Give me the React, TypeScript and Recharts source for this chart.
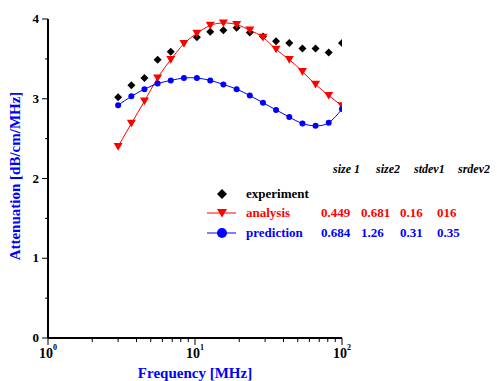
import React from "react";
import { ComposedChart, Line, XAxis, YAxis } from "recharts";

// ── data ──
const freqs = [3, 3.69, 4.53, 5.57, 6.84, 8.41, 10.3, 12.7, 15.6, 19.2, 23.6, 29.0, 35.6, 43.8, 53.8, 66.1, 81.2, 100];
const experiment = [3.02, 3.17, 3.26, 3.49, 3.59, null, 3.77, 3.84, 3.86, 3.89, 3.83, 3.78, 3.72, 3.7, 3.63, 3.63, 3.58, 3.7];
const analysis = [2.4, 2.69, 2.97, 3.26, 3.49, 3.69, 3.82, 3.92, 3.95, 3.93, 3.86, 3.77, 3.62, 3.49, 3.34, 3.18, 3.04, 2.91];
const prediction = [2.92, 3.03, 3.12, 3.19, 3.23, 3.26, 3.26, 3.23, 3.18, 3.12, 3.04, 2.95, 2.86, 2.77, 2.69, 2.66, 2.7, 2.87];

const xTicks = [1, 2, 3, 4, 5, 6, 7, 8, 9, 10, 20, 30, 40, 50, 60, 70, 80, 90, 100];
const yTicks = [0, 0.5, 1, 1.5, 2, 2.5, 3, 3.5, 4];

const statHeaders = ["size 1", "size2", "stdev1", "srdev2"];
const analysisStats = ["0.449", "0.681", "0.16", "016"];
const predictionStats = ["0.684", "1.26", "0.31", "0.35"];

const RED = "#ff0000";
const BLUE = "#0000ff";
const FONT = "'Liberation Serif', 'DejaVu Serif', serif";

const rows = freqs.map((f, i) => ({
  f,
  exp: experiment[i],
  ana: analysis[i],
  pre: prediction[i],
}));

// ── markers ──
function Diamond({ cx, cy, s = 4 }: any) {
  if (cx == null || cy == null) return null;
  return (
    <polygon
      points={`${cx},${cy - s} ${cx + s},${cy} ${cx},${cy + s} ${cx - s},${cy}`}
      fill="#000"
    />
  );
}

function TriDown({ cx, cy, s = 4.5 }: any) {
  if (cx == null || cy == null) return null;
  return (
    <polygon
      points={`${cx - s},${cy - s * 0.8} ${cx + s},${cy - s * 0.8} ${cx},${cy + s * 0.9}`}
      fill={RED}
    />
  );
}

function Dot({ cx, cy, r = 4 }: any) {
  if (cx == null || cy == null) return null;
  return <circle cx={cx} cy={cy} r={r} fill={BLUE} />;
}

// ── ticks ──
function FreqTick({ x, y, payload }: any) {
  const lg = Math.log10(payload.value);
  const major = Math.abs(lg - Math.round(lg)) < 1e-6;
  return (
    <g>
      <line x1={x} x2={x} y1={y} y2={y + (major ? 7 : 4)} stroke="#000" strokeWidth={1} />
      {major && (
        <text x={x} y={y + 20} textAnchor="middle" fontFamily={FONT} fontWeight="bold" fontSize={14} fill="#000">
          10
          <tspan dy={-8} fontSize={8}>{Math.round(lg)}</tspan>
        </text>
      )}
    </g>
  );
}

function AttTick({ x, y, payload }: any) {
  const major = Number.isInteger(payload.value);
  return (
    <g>
      <line x1={x - (major ? 6 : 3)} x2={x} y1={y} y2={y} stroke="#000" strokeWidth={1} />
      {major && (
        <text x={x - 9} y={y + 4} textAnchor="end" fontFamily={FONT} fontWeight="bold" fontSize={13} fill="#000">
          {payload.value}
        </text>
      )}
    </g>
  );
}

// ── legend + stats table ──
function LegendTable() {
  const txt = { fontFamily: FONT, fontWeight: "bold" as const, fontSize: 13 };
  const headX = [333, 376, 414, 458];
  const valX = [321, 361, 400, 437];
  return (
    <svg width={497} height={381} style={{ position: "absolute", left: 0, top: 0 }}>
      {statHeaders.map((h, i) => (
        <text key={h} x={headX[i]} y={173} {...txt} fontSize={12} fontStyle="italic" fill="#000">
          {h}
        </text>
      ))}

      <Diamond cx={222} cy={194} s={5} />
      <text x={246} y={198} {...txt} fill="#000">experiment</text>

      <line x1={207} x2={236} y1={213} y2={213} stroke={RED} />
      <TriDown cx={222} cy={213} s={5} />
      <text x={246} y={217} {...txt} fill={RED}>analysis</text>
      {analysisStats.map((v, i) => (
        <text key={i} x={valX[i]} y={217} {...txt} fill={RED}>{v}</text>
      ))}

      <line x1={207} x2={236} y1={233} y2={233} stroke={BLUE} />
      <Dot cx={222} cy={233} r={5} />
      <text x={246} y={237} {...txt} fill={BLUE}>prediction</text>
      {predictionStats.map((v, i) => (
        <text key={i} x={valX[i]} y={237} {...txt} fill={BLUE}>{v}</text>
      ))}

      <text
        transform="translate(20,176) rotate(-90)"
        textAnchor="middle"
        {...txt}
        fontSize={15}
        fill={BLUE}
      >
        Attenuation [dB/cm/MHz]
      </text>
      <text x={195} y={378} textAnchor="middle" {...txt} fontSize={15} fill={BLUE}>
        Frequency [MHz]
      </text>
    </svg>
  );
}

export default function App() {
  return (
    <div style={{ position: "absolute", left: 0, top: 0, width: 497, height: 381, background: "#fff" }}>
      <ComposedChart
        width={497}
        height={381}
        data={rows}
        margin={{ top: 19, right: 155, bottom: 13, left: 8 }}
      >
        <XAxis
          dataKey="f"
          type="number"
          scale="log"
          domain={[1, 100]}
          ticks={xTicks}
          interval={0}
          allowDataOverflow
          height={30}
          tickSize={0}
          tickMargin={0}
          tickLine={false}
          axisLine={{ stroke: "#000", strokeWidth: 2 }}
          tick={<FreqTick />}
        />
        <YAxis
          type="number"
          domain={[0, 4]}
          ticks={yTicks}
          interval={0}
          width={40}
          tickSize={0}
          tickMargin={0}
          tickLine={false}
          axisLine={{ stroke: "#000", strokeWidth: 2 }}
          tick={<AttTick />}
        />
        <Line dataKey="exp" stroke="none" isAnimationActive={false} dot={<Diamond />} activeDot={false} />
        <Line
          dataKey="ana"
          type="natural"
          stroke={RED}
          strokeWidth={1}
          isAnimationActive={false}
          dot={<TriDown />}
          activeDot={false}
        />
        <Line
          dataKey="pre"
          type="natural"
          stroke={BLUE}
          strokeWidth={1}
          isAnimationActive={false}
          dot={<Dot />}
          activeDot={false}
        />
      </ComposedChart>
      <LegendTable />
    </div>
  );
}
